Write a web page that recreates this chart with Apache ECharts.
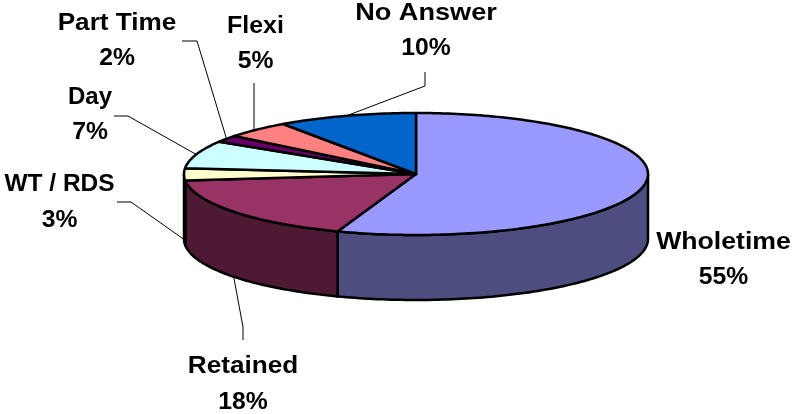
<!DOCTYPE html>
<html>
<head>
<meta charset="utf-8">
<style>
  html, body { margin: 0; padding: 0; background: #fff; }
  #chart { width: 792px; height: 414px; }
</style>
<script src="https://cdn.jsdelivr.net/npm/echarts@6/dist/echarts.min.js"></script>
</head>
<body>
<div id="chart"></div>
<script>
// values are estimated from the slice angles, labels show them rounded
const categories = ['Wholetime', 'Retained', 'WT / RDS', 'Day', 'Part Time', 'Flexi', 'No Answer']
const shares = [55.49, 17.8, 3.2, 7.4, 1.8, 4.6, 9.71]
const topColors = ['#9999FF', '#993366', '#FFFFCC', '#CCFFFF', '#660066', '#FF8080', '#0066CC']
const sideColors = ['#4D4D80', '#4D1933', '#80805F', '#668080', '#330033', '#804040', '#003366']

// flattened pie geometry
const cx = 416, cy = 174, rx = 232, ry = 61, depth = 65
const fontSize = 24

// label line centres + leader elbow, per category. stretch = reference text runs wider than the font
const labelPos = [
  { x: 723.5, y: [242, 277], stretch: 1.11 },
  { x: 243, y: [366, 402], stretch: 1.09, elbow: [[243, 340], [243, 327]], low: true },
  { x: 59.5, y: [184, 220], stretch: 1.02, elbow: [[117, 202], [131, 202]], low: true },
  { x: 90, y: [97, 132], stretch: 1, elbow: [[114, 116], [128, 116]] },
  { x: 117, y: [23, 58], stretch: 1.09, elbow: [[182, 41], [197, 41]] },
  { x: 255.5, y: [26, 61], stretch: 1.04, elbow: [[254, 83]], plumb: true },
  { x: 426, y: [13, 48], stretch: 1.13, elbow: [[425, 72], [425, 86]] }
]

const total = shares.reduce((a, b) => a + b, 0)
let running = 0
const ranges = shares.map(v => {
  const from = running
  running += v
  return [from, running]
})

function toAngle (v) {
  return echarts.number.linearMap(v, [0, total], [0, Math.PI * 2])
}
function rim (a, drop) {
  return [cx + rx * Math.sin(a), cy - ry * Math.cos(a) + (drop || 0)]
}
function arc (a0, a1, drop) {
  const pts = []
  const n = Math.max(2, Math.ceil((a1 - a0) / 0.02))
  for (let i = 0; i <= n; i++) pts.push(rim(a0 + (a1 - a0) * i / n, drop))
  return pts
}
function textLine (str, x, y, stretch) {
  return {
    type: 'text',
    x: x,
    y: y,
    scaleX: stretch,
    style: {
      x: 0,
      y: 0,
      text: str,
      fill: '#000',
      font: 'bold ' + fontSize + 'px "Liberation Sans", Arial, sans-serif',
      align: 'center',
      verticalAlign: 'middle'
    }
  }
}

function renderSlice (params, api) {
  const i = params.dataIndex
  const a0 = toAngle(api.value(0))
  const a1 = toAngle(api.value(1))
  const children = []

  // only the front half of the wall shows
  const s0 = Math.max(a0, Math.PI / 2)
  const s1 = Math.min(a1, Math.PI * 1.5)
  if (s1 > s0) {
    children.push({
      type: 'polygon',
      shape: { points: arc(s0, s1, 0).concat(arc(s0, s1, depth).reverse()) },
      style: { fill: sideColors[i], stroke: '#000', lineWidth: 2.5, lineJoin: 'round' }
    })
  }
  children.push({
    type: 'polygon',
    shape: { points: [[cx, cy]].concat(arc(a0, a1, 0)) },
    style: { fill: topColors[i], stroke: '#000', lineWidth: 2.5, lineJoin: 'round' }
  })

  const pos = labelPos[i]
  if (pos.elbow) {
    const from = rim((a0 + a1) / 2, pos.low ? depth : 0)
    if (pos.plumb) from[0] = pos.elbow[0][0]
    children.push({
      type: 'polyline',
      shape: { points: pos.elbow.concat([from]) },
      style: { fill: null, stroke: '#000', lineWidth: 1 }
    })
  }
  children.push(textLine(categories[i], pos.x, pos.y[0], pos.stretch))
  children.push(textLine(Math.round(shares[i]) + '%', pos.x, pos.y[1], 1.03))
  return { type: 'group', children: children }
}

const chart = echarts.init(document.getElementById('chart'), null, { renderer: 'canvas' })
chart.setOption({
  animation: false,
  backgroundColor: '#fff',
  series: [{
    type: 'custom',
    coordinateSystem: 'none',
    silent: true,
    renderItem: renderSlice,
    data: ranges
  }]
})
</script>
</body>
</html>
